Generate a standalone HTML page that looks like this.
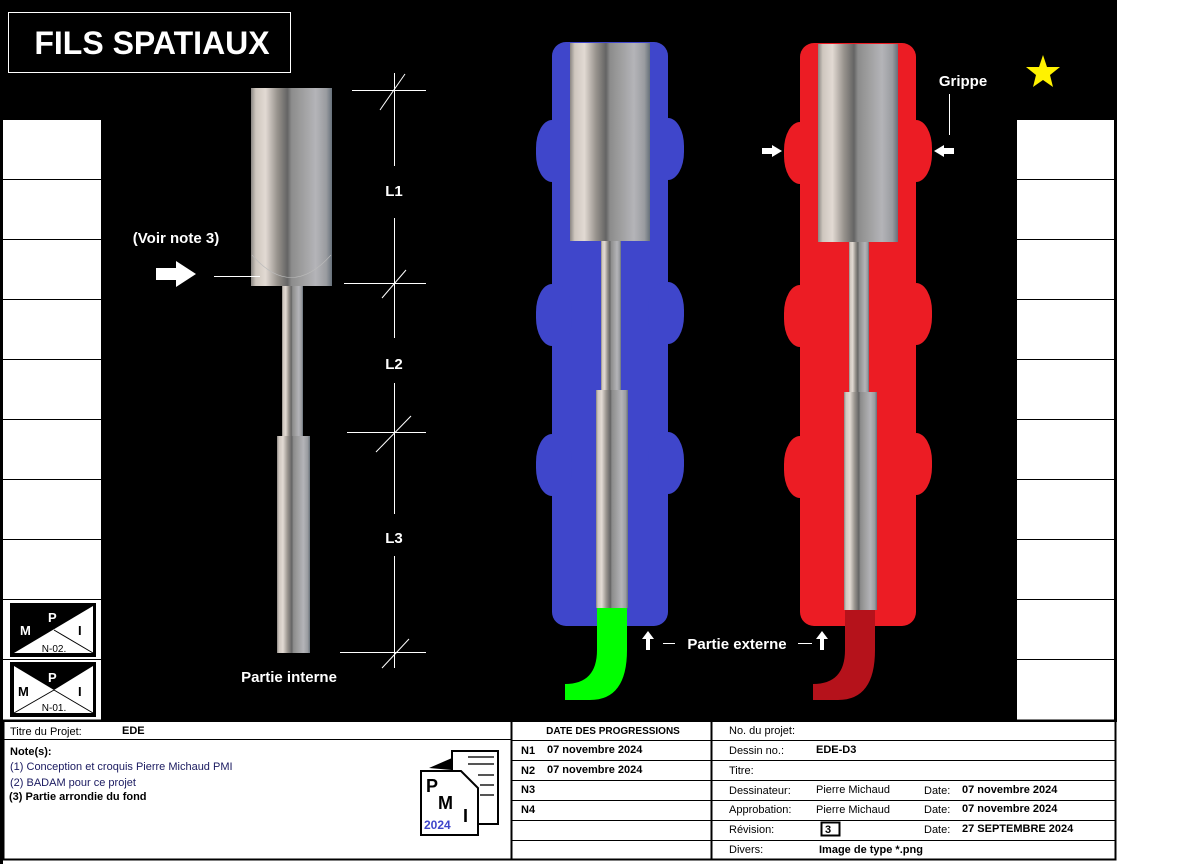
<!DOCTYPE html>
<html><head><meta charset="utf-8"><style>
html,body{margin:0;padding:0;background:#fff;}
svg{display:block;}
text{font-family:"Liberation Sans",sans-serif;}
</style></head><body>
<svg width="1189" height="864" viewBox="0 0 1189 864" xmlns="http://www.w3.org/2000/svg">
<defs>
<linearGradient id="m" x1="0" x2="1" y1="0" y2="0">
<stop offset="0" stop-color="#8a8682"/>
<stop offset="0.06" stop-color="#cfc7bf"/>
<stop offset="0.18" stop-color="#e2dad3"/>
<stop offset="0.32" stop-color="#9a958f"/>
<stop offset="0.45" stop-color="#646464"/>
<stop offset="0.5" stop-color="#8c8c8c"/>
<stop offset="0.6" stop-color="#9a9a9a"/>
<stop offset="0.8" stop-color="#b4b4b8"/>
<stop offset="0.93" stop-color="#9a9ca0"/>
<stop offset="1" stop-color="#66707a"/>
</linearGradient>
</defs>
<rect x="0" y="0" width="1117" height="722" fill="#000"/>
<rect x="8.5" y="12.5" width="282" height="60" fill="none" stroke="#fff" stroke-width="1"/>
<text x="152" y="54" fill="#fff" font-size="32" font-weight="bold" text-anchor="middle">FILS SPATIAUX</text>
<rect x="3" y="120" width="98" height="600" fill="#fff"/>
<g stroke="#000" stroke-width="1">
<line x1="3" x2="101" y1="179.5" y2="179.5"/><line x1="3" x2="101" y1="239.5" y2="239.5"/>
<line x1="3" x2="101" y1="299.5" y2="299.5"/><line x1="3" x2="101" y1="359.5" y2="359.5"/>
<line x1="3" x2="101" y1="419.5" y2="419.5"/><line x1="3" x2="101" y1="479.5" y2="479.5"/>
<line x1="3" x2="101" y1="539.5" y2="539.5"/><line x1="3" x2="101" y1="599.5" y2="599.5"/>
<line x1="3" x2="101" y1="659.5" y2="659.5"/>
</g>
<rect x="1017" y="120" width="97" height="600" fill="#fff"/>
<g stroke="#000" stroke-width="1">
<line x1="1017" x2="1114" y1="179.5" y2="179.5"/><line x1="1017" x2="1114" y1="239.5" y2="239.5"/>
<line x1="1017" x2="1114" y1="299.5" y2="299.5"/><line x1="1017" x2="1114" y1="359.5" y2="359.5"/>
<line x1="1017" x2="1114" y1="419.5" y2="419.5"/><line x1="1017" x2="1114" y1="479.5" y2="479.5"/>
<line x1="1017" x2="1114" y1="539.5" y2="539.5"/><line x1="1017" x2="1114" y1="599.5" y2="599.5"/>
<line x1="1017" x2="1114" y1="659.5" y2="659.5"/>
</g>
<rect x="10" y="603" width="86" height="54" fill="#000"/>
<polygon points="14,653 93,606 93,653" fill="#fff"/>
<line x1="54" y1="630" x2="93" y2="653" stroke="#000" stroke-width="1"/>
<text x="20" y="635" font-size="13" font-weight="bold" fill="#fff">M</text>
<text x="48" y="622" font-size="13" font-weight="bold" fill="#fff">P</text>
<text x="78" y="635" font-size="13" font-weight="bold" fill="#000">I</text>
<text x="54" y="652" font-size="10" fill="#000" text-anchor="middle">N-02.</text>
<rect x="10" y="662" width="86" height="55" fill="#000"/>
<rect x="14" y="666" width="79" height="47" fill="#fff"/>
<polygon points="14,666 93,666 54,690" fill="#000"/>
<line x1="54" y1="690" x2="14" y2="713" stroke="#000"/><line x1="54" y1="690" x2="93" y2="713" stroke="#000"/>
<text x="18" y="696" font-size="13" font-weight="bold" fill="#000">M</text>
<text x="48" y="682" font-size="13" font-weight="bold" fill="#fff">P</text>
<text x="78" y="696" font-size="13" font-weight="bold" fill="#000">I</text>
<text x="54" y="711" font-size="10" fill="#000" text-anchor="middle">N-01.</text>

<rect x="251" y="88" width="81" height="198" fill="url(#m)"/>
<path d="M252 255 Q291 300 331 255" fill="none" stroke="#bbb" stroke-width="0.6"/>
<rect x="282" y="286" width="21" height="150" fill="url(#m)"/>
<rect x="277" y="436" width="33" height="217" fill="url(#m)"/>
<g stroke="#fff" stroke-width="1">
<line x1="352" x2="426" y1="90.5" y2="90.5"/>
<line x1="344" x2="426" y1="283.5" y2="283.5"/>
<line x1="347" x2="426" y1="432.5" y2="432.5"/>
<line x1="340" x2="426" y1="652.5" y2="652.5"/>
<line x1="394.5" x2="394.5" y1="73" y2="166"/>
<line x1="394.5" x2="394.5" y1="218" y2="338"/>
<line x1="394.5" x2="394.5" y1="383" y2="514"/>
<line x1="394.5" x2="394.5" y1="556" y2="668"/>
<line x1="380" y1="110" x2="405" y2="74"/>
<line x1="382" y1="298" x2="406" y2="270"/>
<line x1="376" y1="452" x2="411" y2="416"/>
<line x1="382" y1="668" x2="409" y2="639"/>
<line x1="214" x2="260" y1="276.5" y2="276.5"/>
</g>
<text x="394" y="196" fill="#fff" font-size="15" font-weight="bold" text-anchor="middle">L1</text>
<text x="394" y="369" fill="#fff" font-size="15" font-weight="bold" text-anchor="middle">L2</text>
<text x="394" y="543" fill="#fff" font-size="15" font-weight="bold" text-anchor="middle">L3</text>
<text x="176" y="243" fill="#fff" font-size="15" font-weight="bold" text-anchor="middle">(Voir note 3)</text>
<polygon points="156,268 176,268 176,261 196,274 176,287 176,280 156,280" fill="#fff"/>
<text x="289" y="682" fill="#fff" font-size="15" font-weight="bold" text-anchor="middle">Partie interne</text>

<g fill="#3f46cb">
<rect x="552" y="42" width="116" height="584" rx="14"/>
<rect x="536" y="120" width="36" height="62" rx="16" ry="28"/><rect x="648" y="118" width="36" height="62" rx="16" ry="28"/>
<rect x="536" y="284" width="36" height="62" rx="16" ry="28"/><rect x="648" y="282" width="36" height="62" rx="16" ry="28"/>
<rect x="536" y="434" width="36" height="62" rx="16" ry="28"/><rect x="648" y="432" width="36" height="62" rx="16" ry="28"/>
</g>
<rect x="570" y="43" width="80" height="198" fill="url(#m)"/>
<rect x="601" y="241" width="20" height="149" fill="url(#m)"/>
<rect x="596" y="390" width="32" height="218" fill="url(#m)"/>
<path d="M597 608 H627 V650 Q627 700 590 700 H565 V684 Q597 684 597 650 Z" fill="#00ff00"/>
<g fill="#ec1c24">
<rect x="800" y="43" width="116" height="583" rx="14"/>
<rect x="784" y="122" width="36" height="62" rx="16" ry="28"/><rect x="896" y="120" width="36" height="62" rx="16" ry="28"/>
<rect x="784" y="285" width="36" height="62" rx="16" ry="28"/><rect x="896" y="283" width="36" height="62" rx="16" ry="28"/>
<rect x="784" y="436" width="36" height="62" rx="16" ry="28"/><rect x="896" y="433" width="36" height="62" rx="16" ry="28"/>
</g>
<rect x="818" y="44" width="80" height="198" fill="url(#m)"/>
<rect x="849" y="242" width="20" height="150" fill="url(#m)"/>
<rect x="844" y="392" width="33" height="218" fill="url(#m)"/>
<path d="M845 610 H875 V650 Q875 700 838 700 H813 V684 Q845 684 845 650 Z" fill="#b5121b"/>
<polygon points="762,148 772,148 772,145 782,151 772,157 772,154 762,154" fill="#fff"/>
<polygon points="954,148 944,148 944,145 934,151 944,157 944,154 954,154" fill="#fff"/>
<line x1="949.5" x2="949.5" y1="94" y2="135" stroke="#fff"/>
<text x="963" y="86" fill="#fff" font-size="15" font-weight="bold" text-anchor="middle">Grippe</text>
<polygon points="1043,55 1047,67 1060,67 1050,75 1053,87 1043,80 1033,87 1036,75 1026,67 1039,67" fill="#fff200"/>
<polygon points="648,631 654,639 650,639 650,650 646,650 646,639 642,639" fill="#fff"/>
<polygon points="822,631 828,639 824,639 824,650 820,650 820,639 816,639" fill="#fff"/>
<line x1="663" x2="675" y1="643.5" y2="643.5" stroke="#fff"/>
<line x1="798" x2="812" y1="643.5" y2="643.5" stroke="#fff"/>
<text x="737" y="649" fill="#fff" font-size="15" font-weight="bold" text-anchor="middle">Partie externe</text>

<rect x="0" y="720" width="3" height="144" fill="#000"/>
<g stroke="#000" fill="none">
<rect x="3.5" y="720.5" width="1112" height="139" stroke-width="2"/>
<line x1="3" x2="511" y1="739.5" y2="739.5"/>
<line x1="511.5" x2="511.5" y1="720" y2="860" stroke-width="2"/>
<line x1="711.5" x2="711.5" y1="720" y2="860" stroke-width="2"/>
<line x1="511" x2="1116" y1="740.5" y2="740.5"/>
<line x1="511" x2="1116" y1="760.5" y2="760.5"/>
<line x1="511" x2="1116" y1="780.5" y2="780.5"/>
<line x1="511" x2="1116" y1="800.5" y2="800.5"/>
<line x1="511" x2="1116" y1="820.5" y2="820.5"/>
<line x1="511" x2="1116" y1="840.5" y2="840.5"/>
<rect x="821.5" y="822.5" width="18" height="13" stroke-width="2"/>
</g>
<g font-size="11" fill="#000">
<text x="10" y="735">Titre du Projet:</text>
<text x="122" y="734" font-weight="bold">EDE</text>
<text x="10" y="755" font-weight="bold">Note(s):</text>
<text x="10" y="770" fill="#1a1a60">(1) Conception et croquis Pierre Michaud PMI</text>
<text x="10" y="786" fill="#1a1a60">(2) BADAM pour ce projet</text>
<text x="9" y="800" font-weight="bold">(3) Partie arrondie du fond</text>
<text x="613" y="734" font-weight="bold" text-anchor="middle" font-size="10">DATE DES PROGRESSIONS</text>
<text x="521" y="754" font-weight="bold">N1</text><text x="547" y="753" font-weight="bold">07 novembre 2024</text>
<text x="521" y="774" font-weight="bold">N2</text><text x="547" y="773" font-weight="bold">07 novembre 2024</text>
<text x="521" y="793" font-weight="bold">N3</text>
<text x="521" y="813" font-weight="bold">N4</text>
<text x="729" y="734">No. du projet:</text>
<text x="729" y="754">Dessin no.:</text><text x="816" y="753" font-weight="bold">EDE-D3</text>
<text x="729" y="774">Titre:</text>
<text x="729" y="794">Dessinateur:</text><text x="816" y="793">Pierre Michaud</text>
<text x="924" y="794">Date:</text><text x="962" y="793" font-weight="bold">07 novembre 2024</text>
<text x="729" y="813">Approbation:</text><text x="816" y="813">Pierre Michaud</text>
<text x="924" y="813">Date:</text><text x="962" y="812" font-weight="bold">07 novembre 2024</text>
<text x="729" y="833">Révision:</text><text x="825" y="833" font-weight="bold">3</text>
<text x="924" y="833">Date:</text><text x="962" y="832" font-weight="bold">27 SEPTEMBRE 2024</text>
<text x="729" y="853">Divers:</text><text x="819" y="853" font-weight="bold">Image de type *.png</text>
</g>
<rect x="452" y="751" width="46" height="73" fill="#fff" stroke="#000" stroke-width="2"/>
<g stroke="#555" stroke-width="2"><line x1="468" x2="494" y1="757" y2="757"/><line x1="468" x2="494" y1="764" y2="764"/><line x1="478" x2="494" y1="775" y2="775"/><line x1="480" x2="494" y1="785" y2="785"/><line x1="480" x2="494" y1="795" y2="795"/></g>
<polygon points="429,768 452,758 452,770" fill="#000"/>
<path d="M421 771 H461 L478 788 V835 H421 Z" fill="#fff" stroke="#000" stroke-width="2"/>
<text x="426" y="792" font-size="18" font-weight="bold" fill="#000">P</text>
<text x="438" y="809" font-size="18" font-weight="bold" fill="#000">M</text>
<text x="463" y="822" font-size="18" font-weight="bold" fill="#000">I</text>
<text x="424" y="829" font-size="12" font-weight="bold" fill="#3f46cb">2024</text>
</svg>
</body></html>
